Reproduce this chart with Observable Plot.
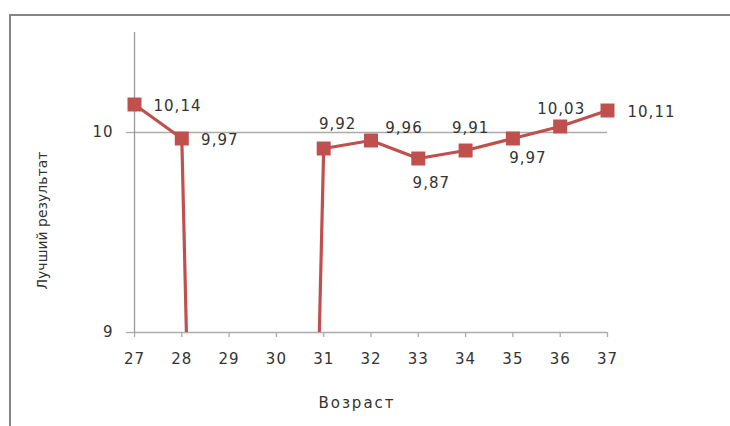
<!DOCTYPE html>
<html>
<head>
<meta charset="utf-8">
<script src="https://cdn.jsdelivr.net/npm/d3@7"></script>
<script src="https://cdn.jsdelivr.net/npm/@observablehq/plot@0.6"></script>
<style>
  html, body { margin: 0; padding: 0; background: #fff; }
  #wrap { position: relative; width: 730px; height: 426px; overflow: hidden; }
  #border {
    position: absolute; left: 9px; top: 14px; width: 730px; height: 420px;
    border-top: 2px solid #858585; border-left: 2px solid #858585;
    box-sizing: border-box;
  }
  #chart { position: absolute; left: 0; top: 0; }
</style>
</head>
<body>
<div id="wrap">
  <div id="border"></div>
  <div id="chart"></div>
</div>
<script>
// Best result by age
const ages = [27, 28, 29, 30, 31, 32, 33, 34, 35, 36, 37];
const results = [10.14, 9.97, 0, 0, 9.92, 9.96, 9.87, 9.91, 9.97, 10.03, 10.11];
const yTicks = [9, 10];
const xTitle = "Возраст";
const yTitle = "Лучший результат";

// Placement of each value label relative to its marker, in pixels [dx, dy]
const labelOffsets = [[43, 2], [38, 2], null, null, [14, -24], [33, -12], [13, 25], [5, -22], [15, 20], [1, -17], [44, 2]];

const red = "#c0504d";
const ink = "#333333";
const data = ages.map((age, i) => ({age, value: results[i], offset: labelOffsets[i]}));
const fmt = v => v.toFixed(2).replace(".", ",");

const yDomain = [9, 10.5];
const inside = data.filter(d => d.value >= yDomain[0] && d.value <= yDomain[1]);
const labelled = inside.filter(d => d.offset);

const chart = Plot.plot({
  width: 730,
  height: 426,
  marginLeft: 134,
  marginRight: 123,
  marginTop: 32,
  marginBottom: 94,
  x: {domain: [27, 37]},
  y: {domain: yDomain},
  style: {
    fontFamily: "'DejaVu Sans', sans-serif",
    fontSize: "15px",
    color: ink,
    background: "transparent",
    overflow: "visible"
  },
  marks: [
    Plot.ruleY(yTicks, {stroke: "#ababab", strokeWidth: 1.3}),
    Plot.ruleX([27], {stroke: "#9a9a9a", strokeWidth: 1.3}),
    Plot.axisY(yTicks, {
      tickSize: 8, tickPadding: 13, stroke: "#ababab", strokeWidth: 1.3,
      tickFormat: d => String(d), label: null, fill: ink, fontSize: 15
    }),
    Plot.axisX(ages, {
      tickSize: 5, tickPadding: 16, stroke: "#ababab", strokeWidth: 1.3,
      tickFormat: d => String(d), label: null, fill: ink, fontSize: 15
    }),
    Plot.line(data, {x: "age", y: "value", stroke: red, strokeWidth: 3.2, clip: true}),
    Plot.dot(inside, {x: "age", y: "value", symbol: "square", r: 7.9, fill: red, stroke: "none"}),
    ...labelled.map(d => Plot.text([d], {
      x: "age", y: "value", text: v => fmt(v.value),
      dx: d.offset[0], dy: d.offset[1], fill: ink, fontSize: 15
    })),
    Plot.text([xTitle], {
      frameAnchor: "bottom", lineAnchor: "middle", textAnchor: "middle",
      dx: -14, dy: 71, fill: ink, fontSize: 15
    }),
    Plot.text([yTitle], {
      frameAnchor: "left", rotate: -90, textAnchor: "middle", lineAnchor: "middle",
      dx: -92, dy: 38, fill: ink, fontSize: 14
    })
  ]
});

// Wider tracking on horizontal text; the vertical axis title keeps normal spacing
const texts = d3.select(chart).selectAll("text");
texts.style("letter-spacing", "1px");
texts.filter(function() { return this.textContent === xTitle; }).style("letter-spacing", "2px");
texts.filter(function() { return this.textContent === yTitle; }).style("letter-spacing", "0px");

document.getElementById("chart").append(chart);
</script>
</body>
</html>
